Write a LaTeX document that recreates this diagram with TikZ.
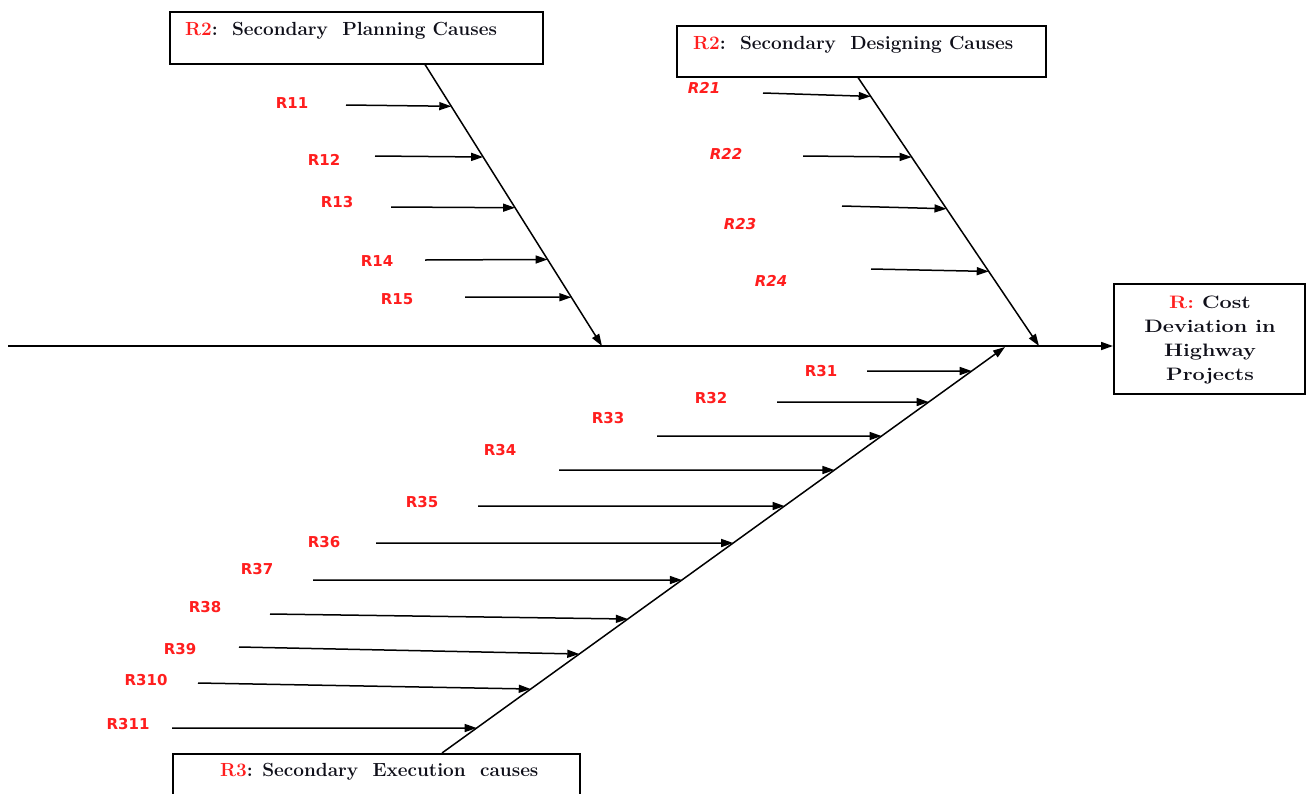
\documentclass[tikz,border=0pt]{standalone}
\usepackage{fontspec}
\usepackage{graphicx}
\usetikzlibrary{arrows.meta,calc}
\newfontfamily\tagfont{DejaVu Sans}
\definecolor{causered}{RGB}{255,30,30}
\definecolor{ink}{RGB}{15,15,25}
\begin{document}
\begin{tikzpicture}[x=1pt,y=-1pt,
  tip/.style={-{Triangle[length=12pt,width=8pt]}},
  spine/.style={line width=1.7pt,tip},
  bone/.style={line width=1.5pt,tip},
  twig/.style={line width=1.5pt,tip},
  frame/.style={draw,line width=1.5pt,inner sep=0pt,anchor=north west},
  tag/.style={text=causered,inner sep=0pt,font=\tagfont\bfseries\fontsize{15}{15}\selectfont},
  itag/.style={tag,font=\tagfont\bfseries\itshape\fontsize{15}{15}\selectfont},
  title/.style={inner sep=0pt,anchor=base west,text=ink,font=\bfseries\fontsize{19}{19}\selectfont}]
\useasboundingbox (0,0) rectangle (1306,793);

% category boxes and the effect box
\node[frame,minimum width=373pt,minimum height=52pt] (planbox) at (169,11) {};
\node[frame,minimum width=369pt,minimum height=51pt] (designbox) at (676,25) {};
\node[frame,minimum width=407pt,minimum height=60pt] (execbox) at (172,753) {};
\node[frame,minimum width=191pt,minimum height=110pt] (effectbox) at (1113,283) {};

\node[title] (plantitle) at (185,35) {\textcolor{causered}{R2}:\ \ Secondary\ \ Planning Causes};
\node[title] (designtitle) at (693,49) {\textcolor{causered}{R2}:\ \ Secondary\ \ Designing Causes};
\node[title] (exectitle) at (220,776) {\textcolor{causered}{R3}: Secondary\ \ Execution\ \ causes};
\node[inner sep=0pt,text=ink,font=\bfseries\fontsize{18}{24}\selectfont] (effecttext) at (1210,340)
  {\scalebox{1.2}[1]{\begin{tabular}{@{}c@{}}\textcolor{causered}{R:} Cost\\Deviation in\\Highway\\Projects\end{tabular}}};

% spine
\coordinate (tail) at (8,346);
\draw[spine] (tail) -- (effectbox.west |- tail);

% main bones
\coordinate (b1s) at ($(planbox.south west)+(256,0)$);
\coordinate (b1e) at (602,346);
\coordinate (b2s) at ($(designbox.south west)+(182,0)$);
\coordinate (b2e) at (1039,346);
\coordinate (b3s) at ($(execbox.north west)+(270,0)$);
\coordinate (b3e) at (1005,347);
\draw[bone] (b1s) -- (b1e);
\draw[bone] (b2s) -- (b2e);
\draw[bone] (b3s) -- (b3e);

% planning causes
\foreach \n/\lx/\ly/\sx/\sy/\ey in {11/292/103/346/105/105, 12/324/160/375/156/156,
    13/337/202/391/207/207, 14/377/261/425/260/259, 15/397/299/465/297/297}{
  \node[tag] (r\n) at (\lx,\ly) {R\n};
  \coordinate (s\n) at (\sx,\sy);
  \pgfmathsetmacro\t{(\ey-63)/(346-63)}
  \coordinate (e\n) at ($(b1s)!\t!(b1e)$);
  \draw[twig] (s\n) -- (e\n);
}

% designing causes
\foreach \n/\lx/\ly/\sx/\sy/\ey in {21/704/88/763/93/95, 22/726/154/803/156/156,
    23/740/224/842/206/208, 24/771/281/871/269/271}{
  \node[itag] (r\n) at (\lx,\ly) {R\n};
  \coordinate (s\n) at (\sx,\sy);
  \pgfmathsetmacro\t{(\ey-76)/(346-76)}
  \coordinate (e\n) at ($(b2s)!\t!(b2e)$);
  \draw[twig] (s\n) -- (e\n);
}

% execution causes
\foreach \n/\lx/\ly/\sx/\sy/\ey in {31/821/371/867/371/371, 32/711/398/777/402/402,
    33/608/418/657/436/436, 34/500/450/559/470/470, 35/422/502/478/506/506,
    36/324/542/376/543/543, 37/257/569/313/580/580, 38/205/607/270/614/619,
    39/180/649/239/647/654, 310/146/680/198/683/689, 311/128/724/172/728/728}{
  \node[tag] (r\n) at (\lx,\ly) {R\n};
  \coordinate (s\n) at (\sx,\sy);
  \pgfmathsetmacro\t{(753-\ey)/(753-347)}
  \coordinate (e\n) at ($(b3s)!\t!(b3e)$);
  \draw[twig] (s\n) -- (e\n);
}
\end{tikzpicture}
\end{document}
